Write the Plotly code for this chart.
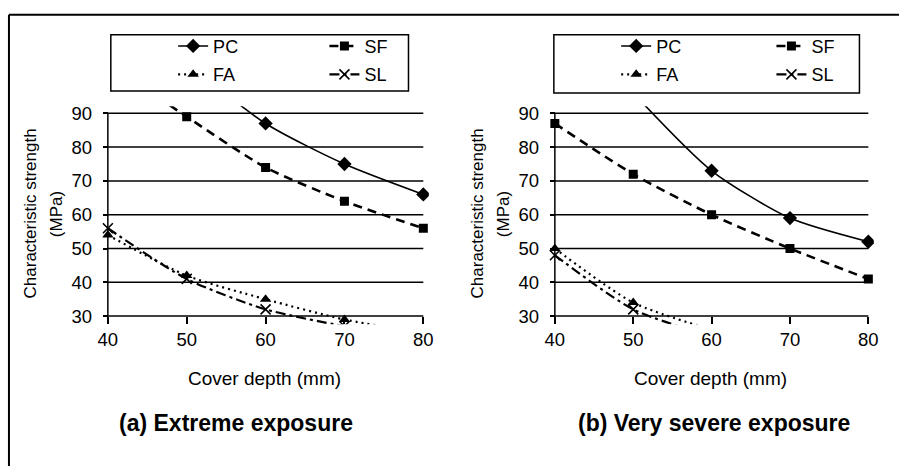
import plotly.graph_objects as go

# ---------------- data ----------------
cover_depth = [40, 50, 60, 70, 80]
x_ticks = [40, 50, 60, 70, 80]
y_ticks = [30, 40, 50, 60, 70, 80, 90]

# (a) Extreme exposure
a_pc = [None, 105, 87, 75, 66]
a_sf = [105, 89, 74, 64, 56]
a_fa = [54, 42, 35, 29, 25]
a_sl = [56, 41, 32, 27, None]

# (b) Very severe exposure
b_pc = [None, 96, 73, 59, 52]
b_sf = [87, 72, 60, 50, 41]
b_fa = [50, 34, 26, None, None]
b_sl = [48, 32, 24, None, None]

series_names = ["PC", "SF", "FA", "SL"]
panel_titles = ["(a) Extreme exposure", "(b) Very severe exposure"]
x_title = "Cover depth (mm)"
y_title_1 = "Characteristic strength"
y_title_2 = "(MPa)"

# ---------------- styling ----------------
W, H = 904, 468
FONT = "Arial, Liberation Sans, sans-serif"
styles = {
    "PC": dict(line=dict(color="black", width=1.6, dash="solid"),
               marker=dict(symbol="diamond", size=11, color="black")),
    "SF": dict(line=dict(color="black", width=2.6, dash="9px,6px"),
               marker=dict(symbol="square", size=9, color="black")),
    "FA": dict(line=dict(color="black", width=2.2, dash="2px,4px"),
               marker=dict(symbol="triangle-up", size=10, color="black")),
    "SL": dict(line=dict(color="black", width=2.2, dash="10px,4px,3px,4px"),
               marker=dict(symbol="x-thin", size=10, color="black",
                           line=dict(color="black", width=1.6))),
}

X_RANGE = [39.3, 80.7]
Y_RANGE = [27.6, 92.1]

panels = [
    dict(px40=104, px80=423, data=dict(PC=a_pc, SF=a_sf, FA=a_fa, SL=a_sl),
         legend_box=(107, 32, 408, 89), col1=170, col2=323,
         title_cx=234, xt_cx=262),
    dict(px40=556, px80=873, data=dict(PC=b_pc, SF=b_sf, FA=b_fa, SL=b_sl),
         legend_box=(555, 32, 864, 91), col1=618, col2=775,
         title_cx=717, xt_cx=713),
]
py90, py30 = 111.5, 316.5
ppu_y = (py30 - py90) / (y_ticks[-1] - y_ticks[0])
top_px = py90 - (Y_RANGE[1] - y_ticks[-1]) * ppu_y
bot_px = py30 + (y_ticks[0] - Y_RANGE[0]) * ppu_y
y_dom = [1 - bot_px / H, 1 - top_px / H]

fig = go.Figure()
shapes = []
annotations = []
layout_axes = {}
legends = {}

legend_idx = 0
for i, p in enumerate(panels):
    ppu_x = (p["px80"] - p["px40"]) / (x_ticks[-1] - x_ticks[0])
    left_px = p["px40"] - (x_ticks[0] - X_RANGE[0]) * ppu_x
    right_px = p["px80"] + (X_RANGE[1] - x_ticks[-1]) * ppu_x
    x_dom = [left_px / W, right_px / W]
    xa = "xaxis" if i == 0 else f"xaxis{i+1}"
    ya = "yaxis" if i == 0 else f"yaxis{i+1}"
    xr = "x" if i == 0 else f"x{i+1}"
    yr = "y" if i == 0 else f"y{i+1}"

    xpos = y_dom[0] + (y_ticks[0] - Y_RANGE[0]) / (Y_RANGE[1] - Y_RANGE[0]) * (y_dom[1] - y_dom[0])
    ypos = x_dom[0] + (x_ticks[0] - X_RANGE[0]) / (X_RANGE[1] - X_RANGE[0]) * (x_dom[1] - x_dom[0])

    layout_axes[xa] = dict(domain=x_dom, range=X_RANGE, anchor="free", position=xpos,
                           tickvals=x_ticks, ticks="outside", ticklen=7, tickwidth=1.5,
                           tickcolor="black", showgrid=False, zeroline=False, showline=False,
                           tickfont=dict(family=FONT, size=18.5, color="black"),
                           ticklabelstandoff=0, fixedrange=True)
    layout_axes[ya] = dict(domain=y_dom, range=Y_RANGE, anchor="free", position=ypos,
                           tickvals=y_ticks, ticks="outside", ticklen=5, tickwidth=1.5,
                           tickcolor="black", showgrid=False, zeroline=False, showline=False,
                           tickfont=dict(family=FONT, size=18.5, color="black"),
                           ticklabelstandoff=7, fixedrange=True)

    for yv in y_ticks:
        shapes.append(dict(type="line", xref=xr, yref=yr, x0=x_ticks[0], x1=x_ticks[-1],
                           y0=yv, y1=yv, line=dict(color="black", width=1.5), layer="below"))
    shapes.append(dict(type="line", xref=xr, yref=yr, x0=x_ticks[0], x1=x_ticks[0],
                       y0=y_ticks[0], y1=y_ticks[-1], line=dict(color="black", width=1.5),
                       layer="below"))

    bx0, by0, bx1, by1 = p["legend_box"]
    shapes.append(dict(type="rect", xref="paper", yref="paper", x0=bx0 / W, x1=bx1 / W,
                       y0=1 - by1 / H, y1=1 - by0 / H, line=dict(color="black", width=1.5),
                       fillcolor="rgba(0,0,0,0)"))

    col_names = [["PC", "FA"], ["SF", "SL"]]
    for c, names in enumerate(col_names):
        legend_idx += 1
        lname = "legend" if legend_idx == 1 else f"legend{legend_idx}"
        lx = (p["col1"] if c == 0 else p["col2"]) / W
        legends[lname] = dict(x=lx, y=1 - 25 / H, xanchor="left", yanchor="top",
                              bgcolor="rgba(0,0,0,0)", borderwidth=0,
                              font=dict(family=FONT, size=18, color="black"),
                              tracegroupgap=2, itemwidth=30)
        for n in names:
            st = styles[n]
            fig.add_trace(go.Scatter(
                x=cover_depth, y=p["data"][n], name=n, mode="lines+markers",
                line=dict(**st["line"], shape="spline", smoothing=0.7),
                marker=st["marker"], xaxis=xr, yaxis=yr, legend=lname,
                legendgroup=f"{i}-{n}", connectgaps=False, hoverinfo="skip"))

    annotations.append(dict(text=x_title, xref="paper", yref="paper", x=p["xt_cx"] / W,
                            y=1 - 380 / H, showarrow=False, xanchor="center", yanchor="middle",
                            font=dict(family=FONT, size=19, color="black")))
    y_mid = 1 - 213 / H
    annotations.append(dict(text=y_title_1, xref="paper", yref="paper",
                            x=(p["px40"] - 78) / W, y=y_mid, textangle=-90, showarrow=False,
                            xanchor="center", yanchor="middle",
                            font=dict(family=FONT, size=17, color="black")))
    annotations.append(dict(text=y_title_2, xref="paper", yref="paper",
                            x=(p["px40"] - 52) / W, y=y_mid, textangle=-90, showarrow=False,
                            xanchor="center", yanchor="middle",
                            font=dict(family=FONT, size=17, color="black")))
    annotations.append(dict(text="<b>" + panel_titles[i] + "</b>", xref="paper", yref="paper",
                            x=p["title_cx"] / W, y=1 - 425 / H, showarrow=False,
                            xanchor="center", yanchor="middle",
                            font=dict(family=FONT, size=23, color="black")))

shapes.append(dict(type="line", xref="paper", yref="paper", x0=4 / W, x1=4 / W, y0=0,
                   y1=1 - 12 / H, line=dict(color="black", width=2)))
shapes.append(dict(type="line", xref="paper", yref="paper", x0=4 / W, x1=1, y0=1 - 12 / H,
                   y1=1 - 12 / H, line=dict(color="black", width=2)))

fig.update_layout(width=W, height=H, margin=dict(l=0, r=0, t=0, b=0),
                  paper_bgcolor="white", plot_bgcolor="white", showlegend=True,
                  shapes=shapes, annotations=annotations, **layout_axes, **legends)

fig.write_html("out.html", config={"displayModeBar": False},
               post_script="document.body.style.margin='0px';document.body.style.overflow='hidden';")
